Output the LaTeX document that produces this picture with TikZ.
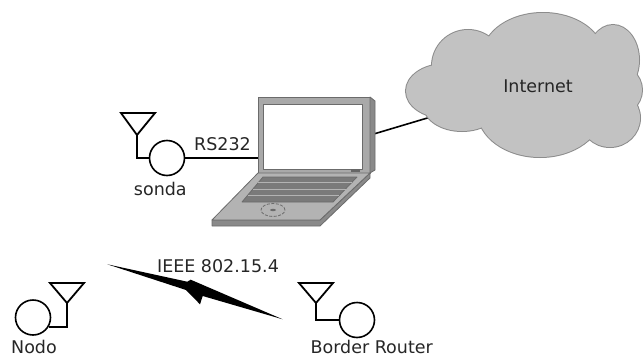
\documentclass[tikz,border=0pt]{standalone}
\usepackage{fontspec}
\setmainfont{DejaVu Sans}
\definecolor{lapbody}{HTML}{A9A9A9}
\definecolor{lapedge}{HTML}{6B6B6B}
\definecolor{lapdark}{HTML}{8A8A8A}
\definecolor{lapbase}{HTML}{B3B3B3}
\definecolor{lapkey}{HTML}{7A7A7A}
\definecolor{cloudgray}{HTML}{C2C2C2}
\definecolor{cloudline}{HTML}{8C8C8C}
\begin{document}
\begin{tikzpicture}[x=1pt,y=-1pt,
  lbl/.style={font=\fontsize{17.5}{20}\selectfont, text=black!85, anchor=base, inner sep=0},
  device/.style={circle, draw=black, line width=1.6pt, minimum size=35pt, inner sep=0},
  wire/.style={draw=black, line width=1.6pt},
  antenna/.style={draw=black, line width=1.8pt, line join=miter},
  laptopline/.style={draw=lapedge, line width=0.8pt, line join=round},
]
\useasboundingbox (0,0) rectangle (643,359);

% ---------- laptop ----------
\node[laptopline, fill=lapbody, minimum width=112pt, minimum height=76pt, inner sep=0] (laptop) at (314,135) {};
\coordinate (inet) at (538,85);
\draw[wire] (laptop.east) -- (inet);
\filldraw[laptopline, fill=lapdark] (370,97) -- (375,101) -- (375,170) -- (370,173) -- cycle;
\filldraw[laptopline, fill=white] (263,104) rectangle (362,169);
\fill[black!60] (351,169) rectangle (360,172);
% base: thickness, then top surface
\filldraw[laptopline, fill=lapdark] (212,220) -- (320,220) -- (370,173) -- (370,178) -- (320,226) -- (212,226) -- cycle;
\filldraw[laptopline, fill=lapbase] (258,173) -- (370,173) -- (320,220) -- (212,220) -- cycle;
% keyboard rows
\filldraw[laptopline, fill=lapkey] (263,177) -- (357,177) -- (333,202) -- (242,202) -- cycle;
\draw[lapbase, line width=1pt] (258.4,182.5) -- (351.7,182.5);
\draw[lapbase, line width=1pt] (252.9,189) -- (345.5,189);
\draw[lapbase, line width=1pt] (247.5,195.5) -- (339.2,195.5);
% touchpad
\draw[lapedge, line width=0.8pt, dash pattern=on 3pt off 1.5pt] (273,210) ellipse [x radius=12pt, y radius=6.5pt];
\fill[lapedge] (273,210) ellipse [x radius=3pt, y radius=1.2pt];

% ---------- cloud (union of ellipses: outline pass, then fill pass) ----------
\def\puffs{445/91/39/27, 468/66/36/36, 543/55/60/42, 613/60/26/35, 612/90/30/27, 610/118/30/29, 540/112/62/45, 462/106/38/25, 530/85/75/45}
\foreach \cx/\cy/\rx/\ry in \puffs
  \draw[cloudline, line width=2pt] (\cx,\cy) ellipse [x radius=\rx pt, y radius=\ry pt];
\foreach \cx/\cy/\rx/\ry in \puffs
  \fill[cloudgray] (\cx,\cy) ellipse [x radius=\rx pt, y radius=\ry pt];
\node[lbl] (internet) at (538,92) {Internet};

% ---------- sonda ----------
\node[device] (sonda) at (167,158) {};
\coordinate (sondaA) at (137,135);
\draw[antenna] (121,113) -- (155,113) -- (sondaA) -- cycle;
\draw[wire] (sonda.west) -| (sondaA);
\node[lbl] (sondalbl) at (160.3,195) {sonda};
\draw[wire] (sonda.east) -- (sonda.east -| laptop.west);
\node[lbl] (rs) at (222.5,150) {RS232};

% ---------- nodo ----------
\node[device] (nodo) at (33,317.5) {};
\coordinate (nodoA) at (67,303);
\draw[antenna] (50,283) -- (84,283) -- (nodoA) -- cycle;
\draw[wire] (nodo.-32) -| (nodoA);
\node[lbl] (nodolbl) at (34,353) {Nodo};

% ---------- border router ----------
\node[device] (br) at (357,320) {};
\coordinate (brA) at (316,303);
\draw[antenna] (299,283) -- (333,283) -- (brA) -- cycle;
\draw[wire] (br.west) -| (brA);
\node[lbl] (brlbl) at (371.7,353) {Border Router};

% ---------- radio link ----------
\fill[black] (107.3,264.3) -- (187.3,281.7) -- (190.7,279.7) -- (282.7,319.3)
  -- (202.7,296) -- (200,304.3) -- (186,290) -- cycle;
\node[lbl] (ieee) at (218,272) {IEEE 802.15.4};
\end{tikzpicture}
\end{document}
